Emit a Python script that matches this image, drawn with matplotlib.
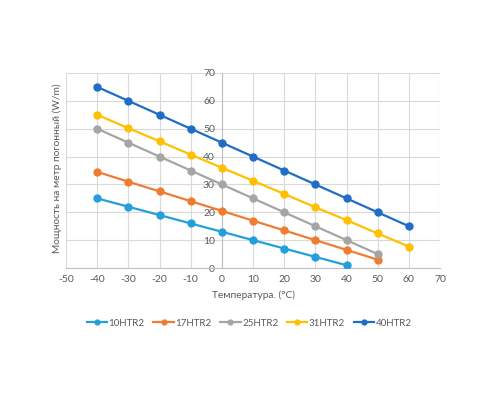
import matplotlib
matplotlib.use("Agg")
import matplotlib.pyplot as plt

temps = [-40, -30, -20, -10, 0, 10, 20, 30, 40, 50, 60]
s10 = [25, 22, 19, 16, 13, 10, 7, 4, 1]
s17 = [34.5, 31, 27.5, 24, 20.5, 17, 13.5, 10, 6.5, 3]
s25 = [50, 45, 40, 35, 30, 25, 20, 15, 10, 5]
s31 = [55, 50.2, 45.5, 40.7, 36, 31.3, 26.6, 21.8, 17.2, 12.4, 7.7]
s40 = [65, 60, 55, 50, 45, 40, 35, 30, 25, 20, 15]
names = ["10HTR2", "17HTR2", "25HTR2", "31HTR2", "40HTR2"]
series = [s10, s17, s25, s31, s40]
colors = ["#23A0DC", "#F07C33", "#A5A5A5", "#FFC000", "#1F6DC4"]
xticks = list(range(-50, 71, 10))
yticks = list(range(0, 71, 10))

plt.rcParams['font.family'] = ['Lato', 'DejaVu Sans']
plt.rcParams['axes.unicode_minus'] = False
txt = "#595959"

fig = plt.figure(figsize=(5, 4), dpi=100)
ax = fig.add_axes([0.132, 0.33, 0.748, 0.4875])
for name, vals, c in zip(names, series, colors):
    ax.plot(temps[:len(vals)], vals, color=c, lw=1.6, marker='o', ms=5, label=name, zorder=3)

ax.set_xlim(-50, 70)
ax.set_ylim(0, 70)
ax.set_xticks(xticks)
ax.set_yticks(yticks)
ax.grid(True, color="#D9D9D9", lw=0.8, zorder=0)
ax.set_axisbelow(True)
for s in ['top', 'right']:
    ax.spines[s].set_visible(False)
ax.spines['left'].set_position(('data', 0))
ax.spines['left'].set_color("#BFBFBF")
ax.spines['bottom'].set_color("#BFBFBF")
ax.tick_params(length=0, labelsize=7.5, colors=txt, pad=5)
ax.set_xlabel("Температура. (°C)", fontsize=7.3, color=txt, labelpad=5)
ax.set_ylabel("Мощность на метр погонный (W/m)", fontsize=7.3, color=txt)
ax.yaxis.set_label_coords(-0.01, 0.51)
leg = ax.legend(loc='upper center', bbox_to_anchor=(0.49, -0.215), ncol=5, frameon=False,
                fontsize=7, handlelength=2.1, columnspacing=0.9, handletextpad=0.15,
                markerscale=0.7)
for t in leg.get_texts():
    t.set_color(txt)
fig.savefig("out.png", dpi=100)
